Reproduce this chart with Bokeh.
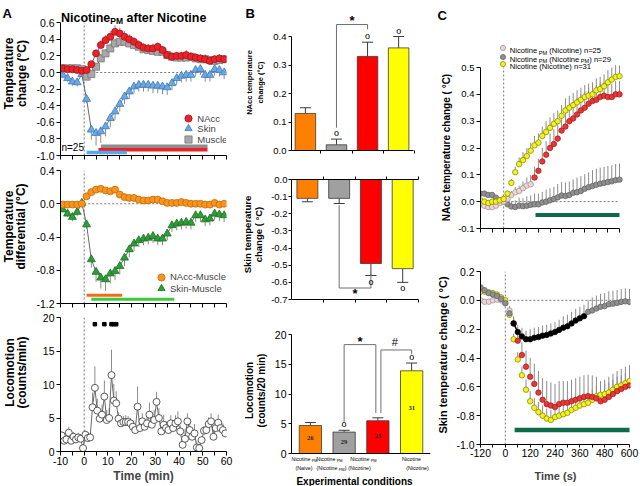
import math
from bokeh.plotting import figure
from bokeh.models import (Label, Legend, LegendItem, FixedTicker, Range1d, LinearAxis,
                          Whisker, TeeHead, ColumnDataSource, NumeralTickFormatter)
from bokeh.layouts import row, column
from bokeh.embed import file_html
from bokeh.resources import INLINE

FONT = "Liberation Sans"

# ---------------- Panel A data (2-min bins) ----------------
t_temp = list(range(-9, 60, 2))
nacc = [0.05, 0.04, 0.04, 0.03, 0.02,
        0.03, 0.10, 0.23, 0.33, 0.39, 0.43, 0.49, 0.47, 0.43, 0.40,
        0.37, 0.33, 0.30, 0.29, 0.29, 0.31, 0.27, 0.21, 0.19, 0.20,
        0.20, 0.21, 0.19, 0.18, 0.17, 0.16, 0.14, 0.16, 0.17, 0.16]
nacc_err = [0.02, 0.02, 0.02, 0.02, 0.02,
            0.03, 0.04, 0.05, 0.06, 0.06, 0.07, 0.08, 0.07, 0.07, 0.06,
            0.06, 0.06, 0.05, 0.05, 0.06, 0.05, 0.05, 0.05, 0.05, 0.05,
            0.05, 0.06, 0.05, 0.05, 0.05, 0.06, 0.05, 0.05, 0.05, 0.05]
muscle = [0.05, 0.05, 0.05, 0.05, 0.04,
          -0.05, -0.02, 0.07, 0.17, 0.23, 0.29, 0.35, 0.37, 0.37, 0.35,
          0.33, 0.31, 0.28, 0.27, 0.26, 0.25, 0.25, 0.21, 0.19, 0.18,
          0.18, 0.18, 0.19, 0.17, 0.16, 0.16, 0.15, 0.14, 0.15, 0.16]
muscle_err = [0.02, 0.02, 0.02, 0.02, 0.02,
              0.03, 0.03, 0.04, 0.05, 0.05, 0.06, 0.06, 0.06, 0.06, 0.05,
              0.05, 0.05, 0.05, 0.05, 0.05, 0.05, 0.05, 0.05, 0.05, 0.05,
              0.05, 0.05, 0.05, 0.05, 0.05, 0.05, 0.05, 0.05, 0.05, 0.05]
skin = [-0.03, -0.07, -0.11, -0.12, -0.02,
        -0.32, -0.69, -0.73, -0.71, -0.65, -0.55, -0.47, -0.38, -0.29, -0.23,
        -0.17, -0.15, -0.15, -0.15, -0.16, -0.16, -0.17, -0.18, -0.13, -0.07,
        -0.04, -0.03, -0.03, 0.03, 0.04, -0.03, -0.03, 0.04, 0.03, 0.00]
skin_err = [0.03, 0.04, 0.05, 0.05, 0.03,
            0.05, 0.12, 0.15, 0.14, 0.12, 0.11, 0.10, 0.09, 0.09, 0.09,
            0.08, 0.08, 0.08, 0.08, 0.09, 0.09, 0.09, 0.09, 0.08, 0.08,
            0.08, 0.08, 0.08, 0.08, 0.07, 0.08, 0.08, 0.08, 0.08, 0.08]
nacc_musc = [-0.01, -0.01, -0.01, -0.01, 0.00,
             0.09, 0.14, 0.17, 0.18, 0.16, 0.15, 0.17, 0.11, 0.08, 0.07,
             0.07, 0.05, 0.04, 0.04, 0.05, 0.05, 0.03, 0.01, 0.01, 0.01,
             0.02, 0.01, 0.00, 0.00, 0.00, -0.01, -0.01, 0.01, -0.01, 0.00]
nacc_musc_err = [0.02, 0.02, 0.02, 0.02, 0.02,
                 0.03, 0.03, 0.03, 0.03, 0.03, 0.03, 0.03, 0.03, 0.03, 0.02,
                 0.02, 0.02, 0.02, 0.02, 0.02, 0.02, 0.02, 0.02, 0.02, 0.02,
                 0.02, 0.02, 0.02, 0.02, 0.02, 0.02, 0.02, 0.02, 0.02, 0.02]
skin_musc = [-0.07, -0.12, -0.16, -0.10, 0.01,
             -0.25, -0.67, -0.82, -0.89, -0.91, -0.84, -0.81, -0.75, -0.65, -0.55,
             -0.48, -0.44, -0.42, -0.41, -0.39, -0.42, -0.42, -0.36, -0.26, -0.24,
             -0.23, -0.22, -0.23, -0.14, -0.14, -0.19, -0.18, -0.12, -0.13, -0.14]
skin_musc_err = [0.03, 0.04, 0.05, 0.05, 0.03,
                 0.05, 0.10, 0.12, 0.13, 0.14, 0.12, 0.11, 0.10, 0.10, 0.09,
                 0.09, 0.08, 0.08, 0.08, 0.08, 0.08, 0.08, 0.08, 0.08, 0.08,
                 0.08, 0.08, 0.08, 0.08, 0.08, 0.08, 0.08, 0.08, 0.08, 0.08]
sig_a1 = {"Muscle": (7, 52), "NAcc": (6, 52), "Skin": (1, 18)}
sig_a2 = {"NAcc-Muscle": (1, 16), "Skin-Muscle": (3, 38)}

t_loc = [m + 0.5 for m in range(-10, 60)]
loc = [2.4, 1.6, 1.8, 2.8, 1.6, 2.2, 1.8, 2.1, 1.9, 0.5,
       2.5, 2.0, 2.1, 6.6, 9.5, 6.1, 4.9, 5.5, 8.2, 4.7,
       5.0, 11.4, 7.6, 7.2, 4.9, 4.2, 4.4, 4.4, 4.4, 4.2,
       3.7, 3.2, 6.7, 3.5, 4.5, 3.7, 4.2, 5.5, 4.0, 4.7,
       7.4, 5.0, 3.0, 4.0, 3.5, 3.2, 4.2, 3.5, 4.2, 4.5,
       3.0, 1.0, 1.9, 4.5, 3.2, 2.2, 2.7, 0.6, 0.5, 1.7,
       3.1, 3.2, 4.1, 4.5, 2.2, 3.5, 4.3, 3.5, 3.2, 2.7]
loc_err = [0.5, 0.6, 0.6, 0.9, 0.6, 0.7, 0.6, 0.7, 0.6, 0.5,
           0.6, 0.6, 0.6, 2.2, 3.2, 1.8, 1.2, 1.5, 2.4, 1.5,
           1.5, 3.8, 2.5, 1.8, 1.0, 0.8, 0.9, 1.0, 0.9, 0.8,
           0.9, 0.8, 3.0, 1.0, 1.2, 1.0, 1.0, 1.8, 1.2, 1.5,
           1.5, 1.5, 0.8, 1.5, 1.0, 1.0, 1.2, 1.0, 1.2, 1.5,
           0.9, 1.0, 1.5, 1.2, 1.0, 1.2, 1.4, 1.0, 0.6, 0.5,
           0.7, 1.0, 1.0, 1.2, 1.2, 1.0, 1.2, 1.0, 1.0, 0.8]
loc_sig_bins = [4.5, 8.5, 11.5, 12.5, 13.5]

# ---------------- Panel B data ----------------
groups = [1, 2, 3, 4]
b_colors = ["#FF8000", "#A0A0A0", "#FF0000", "#FFFF00"]
b_nacc = [0.13, 0.02, 0.33, 0.36]
b_nacc_err = [0.02, 0.02, 0.05, 0.04]
b_nacc_sig = [False, True, True, True]
b_skin = [-0.11, -0.11, -0.49, -0.52]
b_skin_err = [0.02, 0.03, 0.07, 0.08]
b_skin_sig = [False, False, True, True]
b_loc = [4.7, 3.6, 5.5, 13.9]
b_loc_err = [0.5, 0.3, 0.5, 1.3]
b_loc_sig = [False, True, False, True]
b_n = [26, 29, 25, 31]
b_cat_line1 = [[("Nicotine", 0), (" PM", 1)], [("Nicotine", 0), (" PM", 1)],
               [("Nicotine", 0), (" PM", 1)], [("Nicotine", 0)]]
b_cat_line2 = [[("(Naive)", 0)], [("(Nicotine", 0), (" PM", 1), (")", 0)],
               [("(Nicotine)", 0)], [("(Nicotine)", 0)]]

# ---------------- Panel C data (20-s bins) ----------------
t_c = list(range(-120, 601, 20))
c1_pm_nic = [-0.01, -0.015, -0.02, -0.02, -0.015, -0.005, 0.0,
             0.01, 0.025, 0.035, 0.04, 0.05, 0.06, 0.065, 0.09, 0.115, 0.15,
             0.175, 0.2, 0.215, 0.235, 0.265, 0.28, 0.30, 0.31, 0.325, 0.34,
             0.35, 0.365, 0.375, 0.38, 0.39, 0.395, 0.39, 0.39, 0.40, 0.40]
c1_pm_nic_err = [0.01, 0.01, 0.01, 0.01, 0.01, 0.01, 0.01,
                 0.01, 0.015, 0.02, 0.02, 0.025, 0.03, 0.035, 0.04, 0.045, 0.05,
                 0.05, 0.055, 0.055, 0.06, 0.06, 0.06, 0.06, 0.06, 0.06, 0.06,
                 0.06, 0.06, 0.055, 0.055, 0.055, 0.05, 0.05, 0.05, 0.05, 0.05]
c1_pm_pm = [0.03, 0.03, 0.025, 0.025, 0.015, 0.005, 0.0,
            -0.01, -0.018, -0.02, -0.015, -0.017, -0.015, -0.012, -0.01, -0.01, -0.003,
            0.0, 0.005, 0.01, 0.016, 0.023, 0.021, 0.025, 0.033, 0.035, 0.04,
            0.048, 0.054, 0.058, 0.063, 0.067, 0.07, 0.073, 0.076, 0.08, 0.082]
c1_pm_pm_err = [0.01, 0.01, 0.01, 0.01, 0.01, 0.01, 0.01,
                0.015, 0.02, 0.025, 0.03, 0.03, 0.035, 0.035, 0.04, 0.04, 0.04,
                0.045, 0.045, 0.045, 0.05, 0.05, 0.05, 0.05, 0.05, 0.055, 0.055,
                0.055, 0.055, 0.06, 0.06, 0.06, 0.06, 0.06, 0.06, 0.06, 0.06]
c1_nic = [0.005, 0.0, -0.005, 0.0, 0.0, 0.005, 0.01,
          0.03, 0.07, 0.11, 0.14, 0.155, 0.17, 0.19, 0.21, 0.22, 0.245,
          0.26, 0.275, 0.29, 0.30, 0.32, 0.34, 0.35, 0.36, 0.37, 0.38,
          0.39, 0.395, 0.40, 0.415, 0.42, 0.43, 0.445, 0.455, 0.465, 0.468]
c1_nic_err = [0.01, 0.01, 0.01, 0.01, 0.01, 0.01, 0.01,
              0.01, 0.015, 0.02, 0.025, 0.03, 0.03, 0.03, 0.035, 0.035, 0.035,
              0.04, 0.04, 0.04, 0.04, 0.04, 0.045, 0.045, 0.045, 0.045, 0.045,
              0.045, 0.045, 0.045, 0.045, 0.045, 0.045, 0.045, 0.045, 0.045, 0.04]
c1_pm_nic_sig_from = 160
c1_sig_window = (165, 600)

c2_pm_nic = [0.0, -0.01, -0.01, 0.0, 0.005, 0.0, -0.02,
             -0.07, -0.16, -0.28, -0.38, -0.46, -0.53, -0.58, -0.64, -0.69, -0.72,
             -0.73, -0.74, -0.72, -0.71, -0.71, -0.70, -0.69, -0.68, -0.67, -0.665,
             -0.67, -0.68, -0.70, -0.69, -0.67, -0.65, -0.63, -0.615, -0.60, -0.59]
c2_pm_nic_err = [0.02, 0.02, 0.02, 0.02, 0.02, 0.02, 0.02,
                 0.03, 0.05, 0.07, 0.09, 0.11, 0.13, 0.14, 0.15, 0.15, 0.16,
                 0.16, 0.16, 0.16, 0.15, 0.15, 0.15, 0.15, 0.15, 0.15, 0.15,
                 0.15, 0.15, 0.14, 0.14, 0.14, 0.14, 0.14, 0.14, 0.14, 0.14]
c2_pm_pm = [0.09, 0.07, 0.05, 0.04, 0.03, 0.01, -0.02,
            -0.09, -0.16, -0.22, -0.25, -0.27, -0.27, -0.26, -0.255, -0.245, -0.24,
            -0.23, -0.22, -0.205, -0.19, -0.18, -0.16, -0.14, -0.125, -0.11, -0.08,
            -0.07, -0.057, -0.045, -0.04, -0.027, -0.023, -0.018, -0.011, -0.007, -0.011]
c2_pm_pm_err = [0.02, 0.02, 0.02, 0.02, 0.02, 0.02, 0.02,
                0.03, 0.04, 0.05, 0.06, 0.06, 0.07, 0.07, 0.07, 0.07, 0.07,
                0.07, 0.07, 0.07, 0.08, 0.08, 0.08, 0.08, 0.08, 0.08, 0.08,
                0.09, 0.09, 0.09, 0.09, 0.09, 0.09, 0.09, 0.09, 0.09, 0.09]
c2_nic = [0.06, 0.06, 0.055, 0.05, 0.04, 0.02, 0.0,
          -0.10, -0.27, -0.41, -0.52, -0.62, -0.70, -0.745, -0.775, -0.80, -0.82,
          -0.83, -0.81, -0.80, -0.79, -0.78, -0.76, -0.745, -0.73, -0.72, -0.71,
          -0.69, -0.665, -0.655, -0.65, -0.64, -0.62, -0.60, -0.59, -0.575, -0.56]
c2_nic_err = [0.02, 0.02, 0.02, 0.02, 0.02, 0.02, 0.02,
              0.03, 0.04, 0.05, 0.06, 0.07, 0.07, 0.07, 0.07, 0.07, 0.07,
              0.07, 0.07, 0.07, 0.07, 0.07, 0.07, 0.07, 0.07, 0.07, 0.07,
              0.07, 0.07, 0.07, 0.07, 0.07, 0.07, 0.07, 0.07, 0.07, 0.07]
c2_pm_nic_sig_from = 40
c2_pm_pm_sig = (40, 380)
c2_sig_window = (45, 600)

for arr in (nacc, nacc_err, muscle, muscle_err, skin, skin_err, nacc_musc, nacc_musc_err, skin_musc, skin_musc_err):
    assert len(arr) == len(t_temp)
assert len(loc) == len(t_loc) and len(loc_err) == len(t_loc)
for arr in (c1_pm_nic, c1_pm_nic_err, c1_pm_pm, c1_pm_pm_err, c1_nic, c1_nic_err,
            c2_pm_nic, c2_pm_nic_err, c2_pm_pm, c2_pm_pm_err, c2_nic, c2_nic_err):
    assert len(arr) == len(t_c)

# ---------------- helpers ----------------
REG = {' ': 278, '(': 333, ')': 333, '-': 333, '.': 278, '/': 278, '=': 584, '°': 400,
       'A': 667, 'C': 722, 'M': 833, 'N': 722, 'P': 667, 'S': 667, 'T': 611,
       'a': 556, 'c': 500, 'd': 556, 'e': 556, 'f': 278, 'g': 556, 'h': 556, 'i': 222,
       'k': 500, 'l': 222, 'm': 833, 'n': 556, 'o': 556, 'p': 556, 'r': 333, 's': 500,
       't': 278, 'u': 556, 'v': 500, 'x': 500}
BOLD = {' ': 278, '(': 333, ')': 333, '-': 333, '.': 278, '/': 278, '=': 584, '°': 400,
        'A': 722, 'B': 722, 'C': 722, 'E': 667, 'M': 833, 'N': 722, 'P': 667, 'S': 667,
        'T': 611, 'a': 556, 'c': 556, 'd': 611, 'e': 556, 'f': 333, 'g': 611, 'h': 611,
        'i': 278, 'k': 556, 'l': 278, 'm': 889, 'n': 611, 'o': 611, 'p': 611, 'r': 389,
        's': 556, 't': 333, 'u': 611, 'v': 556, 'x': 556}
for _d in "0123456789":
    REG[_d] = 556
    BOLD[_d] = 556


def tw(s, size, bold=False):
    tab = BOLD if bold else REG
    return sum(tab.get(ch, 556) for ch in s) * size / 1000.0


def add_rich(p, parts, x, y, size, sub_size, bold=False, align="left",
             x_units="screen", y_units="screen", drop=None, color="black"):
    if drop is None:
        drop = size * 0.28
    total = sum(tw(t, sub_size if sb else size, bold) for t, sb in parts)
    off = -total / 2.0 if align == "center" else 0.0
    for t, sb in parts:
        s = sub_size if sb else size
        lead = len(t) - len(t.lstrip())
        txt = t.strip()
        yy = y - drop if sb else y
        p.add_layout(Label(x=x, y=yy, x_units=x_units, y_units=y_units,
                           x_offset=off + tw(" " * lead, s, bold), text=txt,
                           text_font=FONT, text_font_size=f"{s}px",
                           text_font_style="bold" if bold else "normal",
                           text_color=color, text_align="left", text_baseline="alphabetic"))
        off += tw(t, s, bold)


def vlabel(p, text, x, y, size, bold=True, units="data"):
    p.add_layout(Label(x=x, y=y, x_units=units, y_units=units, text=text,
                       angle=math.pi / 2, text_align="center", text_baseline="middle",
                       text_font=FONT, text_font_size=f"{size}px",
                       text_font_style="bold" if bold else "normal", text_color="black"))


def hlabel(p, text, x, y, size, bold=True, align="left", baseline="alphabetic",
           x_units="data", y_units="data"):
    p.add_layout(Label(x=x, y=y, x_units=x_units, y_units=y_units, text=text,
                       text_align=align, text_baseline=baseline,
                       text_font=FONT, text_font_size=f"{size}px",
                       text_font_style="bold" if bold else "normal", text_color="black"))


def mkfig(w, h, l, r, t, b, xr, yr):
    p = figure(width=w, height=h, x_range=Range1d(*xr), y_range=Range1d(*yr),
               output_backend="svg", toolbar_location=None,
               min_border_left=l, min_border_right=r, min_border_top=t, min_border_bottom=b)
    p.outline_line_color = None
    p.grid.visible = False
    p.background_fill_color = "white"
    p.border_fill_color = "white"
    return p


def textfig(w, h):
    p = figure(width=w, height=h, x_range=Range1d(0, w), y_range=Range1d(0, h),
               output_backend="svg", toolbar_location=None, x_axis_type=None, y_axis_type=None,
               min_border_left=0, min_border_right=0, min_border_top=0, min_border_bottom=0)
    p.outline_line_color = None
    p.background_fill_color = "white"
    p.border_fill_color = "white"
    return p


def style_axis(ax, size=10.5, ticks=None, labels=True, fmt=None, tick_out=4,
               standoff=2, bounds=None, minor=None):
    ax.axis_line_color = "black"
    ax.axis_line_width = 1
    ax.major_tick_line_color = "black"
    ax.major_tick_in = 0
    ax.major_tick_out = tick_out
    ax.minor_tick_in = 0
    ax.minor_tick_out = tick_out
    ax.minor_tick_line_color = "black" if minor else None
    if ticks is not None:
        ax.ticker = FixedTicker(ticks=list(ticks), minor_ticks=list(minor or []))
    if fmt:
        ax.formatter = NumeralTickFormatter(format=fmt)
    ax.major_label_text_font = FONT
    ax.major_label_text_color = "black"
    if labels:
        ax.major_label_text_font_size = f"{size}px"
        ax.major_label_standoff = standoff
    else:
        ax.major_label_overrides = {tk: "" for tk in (ticks or [])}
        ax.major_label_text_font_size = "0px"
        ax.major_label_standoff = 0
    if bounds:
        ax.bounds = bounds


def legend_rows(p, entries, x, centers, glyph, standoff, size=10):
    # one single-row legend per entry, so rows can be spaced closer than the glyph box
    for (lab, rend), yc in zip(entries, centers):
        p.add_layout(Legend(items=[LegendItem(label=lab, renderers=[rend])],
                            location=(x, yc - glyph / 2.0), glyph_width=glyph, glyph_height=glyph,
                            spacing=0, padding=0, margin=0, label_standoff=standoff,
                            label_height=glyph, label_width=0,
                            label_text_font=FONT, label_text_font_size=f"{size}px",
                            background_fill_alpha=0, border_line_alpha=0))


def up(v, e):
    return [a + b for a, b in zip(v, e)]


def down(v, e):
    return [a - b for a, b in zip(v, e)]


ERR = "#8C8C8C"
CONN = "#6A6A6A"
DASH = "#555555"
H = 486

# ======================= Panel A =======================
# all figures of a column share the same left/right borders (Bokeh aligns frames in a column)
A_X = (-10, 60)
A_W, A_L, A_R = 208, 28, 14

pA1 = mkfig(A_W, 160, A_L, A_R, 0, 5, A_X, (-1.0, -1.0 + 155 / 83.0))
style_axis(pA1.xaxis[0], ticks=range(-10, 61, 5), labels=False)
style_axis(pA1.yaxis[0], ticks=[0.6, 0.4, 0.2, 0.0, -0.2, -0.4, -0.6, -0.8, -1.0], fmt="0.0", bounds=(-1.0, 0.6))
pA1.segment(x0=[0], y0=[-1.0], x1=[0], y1=[0.6], line_dash="2 2", line_color=DASH, line_width=0.8)
pA1.segment(x0=[0], y0=[0], x1=[A_X[1]], y1=[0], line_dash="2 2", line_color=DASH, line_width=0.8)
pA1.segment(x0=t_temp, y0=nacc, x1=t_temp, y1=up(nacc, nacc_err), line_color=ERR, line_width=1)
pA1.segment(x0=t_temp, y0=muscle, x1=t_temp, y1=up(muscle, muscle_err), line_color=ERR, line_width=1)
pA1.segment(x0=t_temp, y0=skin, x1=t_temp, y1=down(skin, skin_err), line_color=ERR, line_width=1)
pA1.line(t_temp, skin, line_color=CONN, line_width=1)
pA1.line(t_temp, muscle, line_color=CONN, line_width=1)
pA1.line(t_temp, nacc, line_color=CONN, line_width=1)
r_sk = pA1.scatter(t_temp, skin, marker="triangle", size=8, fill_color="#6AA8E6", line_color="#3F78B8", line_width=0.8)
r_mu = pA1.scatter(t_temp, muscle, marker="square", size=7, fill_color="#A8A8A8", line_color="#777777", line_width=0.8)
r_na = pA1.scatter(t_temp, nacc, marker="circle", size=7, fill_color="#E8232A", line_color="#A81218", line_width=0.8)
for name, col, lev in (("Muscle", "#8E8E8E", -0.89), ("NAcc", "#E8232A", -0.93), ("Skin", "#58A6EE", -0.965)):
    s0, s1 = sig_a1[name]
    pA1.segment(x0=[s0], y0=[lev], x1=[s1], y1=[lev], line_color=col, line_width=3.5)
hlabel(pA1, "n=25", -9.6, -0.905, 10, bold=False, baseline="middle")
legend_rows(pA1, [("NAcc", r_na), ("Skin", r_sk), ("Muscle", r_mu)], 119.3, [36.7, 26.7, 16.0], 18, -4, 9.5)
add_rich(pA1, [("Nicotine", 0), ("PM", 1), (" after Nicotine", 0)], 0.5, 138, 12.5, 8.5, bold=True, drop=3)

pA2 = mkfig(A_W, 149, A_L, A_R, 10, 6, A_X, (-1.2, 0.4))
style_axis(pA2.xaxis[0], ticks=range(-10, 61, 5), labels=False)
style_axis(pA2.yaxis[0], ticks=[0.4, 0.0, -0.4, -0.8, -1.2], fmt="0.0")
pA2.segment(x0=[0], y0=[-1.2], x1=[0], y1=[0.4], line_dash="2 2", line_color=DASH, line_width=0.8)
pA2.segment(x0=[0], y0=[0], x1=[A_X[1]], y1=[0], line_dash="2 2", line_color=DASH, line_width=0.8)
pA2.segment(x0=t_temp, y0=nacc_musc, x1=t_temp, y1=up(nacc_musc, nacc_musc_err), line_color=ERR, line_width=1)
pA2.segment(x0=t_temp, y0=skin_musc, x1=t_temp, y1=down(skin_musc, skin_musc_err), line_color=ERR, line_width=1)
pA2.line(t_temp, skin_musc, line_color=CONN, line_width=1)
pA2.line(t_temp, nacc_musc, line_color=CONN, line_width=1)
r_sm = pA2.scatter(t_temp, skin_musc, marker="triangle", size=8, fill_color="#2E9E36", line_color="#1C6E22", line_width=0.8)
r_nm = pA2.scatter(t_temp, nacc_musc, marker="circle", size=7, fill_color="#F7941D", line_color="#C86A0A", line_width=0.8)
for name, col, lev in (("NAcc-Muscle", "#F26A1B", -1.10), ("Skin-Muscle", "#3CCB3C", -1.15)):
    s0, s1 = sig_a2[name]
    pA2.segment(x0=[s0], y0=[lev], x1=[s1], y1=[lev], line_color=col, line_width=3)
legend_rows(pA2, [("NAcc-Muscle", r_nm), ("Skin-Muscle", r_sm)], 92, [26.3, 14.7], 18, -2, 9.5)

pA3 = mkfig(A_W, 177, A_L, A_R, 8, 35, A_X, (0, 20))
style_axis(pA3.xaxis[0], ticks=range(-10, 61, 10), fmt="0", minor=range(-5, 56, 10), size=10.5, standoff=1)
style_axis(pA3.yaxis[0], ticks=[0, 5, 10, 15, 20], fmt="0")
xa3 = pA3.xaxis[0]
xa3.axis_label = "Time (min)"
xa3.axis_label_text_font = FONT
xa3.axis_label_text_font_size = "12px"
xa3.axis_label_text_font_style = "bold"
xa3.axis_label_standoff = 1
pA3.segment(x0=[0], y0=[0], x1=[0], y1=[20], line_dash="2 2", line_color=DASH, line_width=0.8)
pA3.segment(x0=t_loc, y0=loc, x1=t_loc, y1=up(loc, loc_err), line_color=ERR, line_width=1)
pA3.line(t_loc, loc, line_color=CONN, line_width=1)
pA3.scatter(t_loc, loc, marker="circle", size=7, fill_color="white", line_color="#333333", line_width=0.8)
pA3.scatter(loc_sig_bins, [19.0] * len(loc_sig_bins), marker="square", size=3.5, fill_color="black", line_color="black")

TA = textfig(32, H)
hlabel(TA, "A", 2, H - 13, 13)
vlabel(TA, "Temperature", 8, H - 73, 12)
vlabel(TA, "change (°C)", 21, H - 73, 12)
vlabel(TA, "Temperature", 8, H - 226, 12)
vlabel(TA, "differential (°C)", 20.5, H - 226, 12)
vlabel(TA, "Locomotion", 9, H - 372, 12)
vlabel(TA, "(counts/min)", 21, H - 372, 12)

# ======================= Panel B =======================
def bar_panel(p, vals, errs, neg=False):
    p.vbar(x=groups, top=vals, bottom=0, width=0.66, fill_color=b_colors,
           line_color="#3A3A3A", line_width=0.8)
    if neg:
        src = ColumnDataSource(dict(base=groups, upper=vals, lower=down(vals, errs)))
        w = Whisker(base="base", upper="upper", lower="lower", source=src, dimension="height",
                    line_color="#3A3A3A", line_width=1,
                    upper_head=None, lower_head=TeeHead(size=11, line_color="#3A3A3A", line_width=1))
    else:
        src = ColumnDataSource(dict(base=groups, upper=up(vals, errs), lower=vals))
        w = Whisker(base="base", upper="upper", lower="lower", source=src, dimension="height",
                    line_color="#3A3A3A", line_width=1,
                    lower_head=None, upper_head=TeeHead(size=11, line_color="#3A3A3A", line_width=1))
    p.add_layout(w)


BR = "#707070"
B_W, B_L, B_R = 168, 22, 6
B_FW = B_W - B_L - B_R


def bx(first_center_px, px_per_bar):
    x0 = 1 - first_center_px / px_per_bar
    return (x0, x0 + B_FW / px_per_bar)


B1_X = bx(14, 31.3)
pB1 = mkfig(B_W, 165, B_L, B_R, 7, 15, B1_X, (0, 143 / 285.0))
style_axis(pB1.xaxis[0], ticks=[1.5, 2.5, 3.5, 4.5], labels=False, tick_out=3, bounds=(B1_X[0], 4.48))
style_axis(pB1.yaxis[0], ticks=[0.0, 0.1, 0.2, 0.3, 0.4], fmt="0.0", size=9.5, bounds=(0, 0.4), tick_out=3)
bar_panel(pB1, b_nacc, b_nacc_err)
top1 = up(b_nacc, b_nacc_err)
pB1.text(x=[g for g, s in zip(groups, b_nacc_sig) if s], y=[v for v, s in zip(top1, b_nacc_sig) if s],
         text=["o"] * sum(b_nacc_sig), text_align="center", text_baseline="bottom", y_offset=-1,
         text_font=FONT, text_font_size="10px", text_color="black")
pB1.line(x=[2, 2, 3, 3], y=[top1[1] + 0.04, 0.442, 0.442, top1[2] + 0.045], line_color=BR, line_width=1)
hlabel(pB1, "*", 2.5, 0.455, 13, align="center", baseline="middle")

B2_X = bx(16, 32.0)
pB2 = mkfig(B_W, 147, B_L, B_R, 14, 13, B2_X, (-0.7, 0.0))
style_axis(pB2.xaxis[0], ticks=[1.5, 2.5, 3.5, 4.5], labels=False, tick_out=3, bounds=(B2_X[0], 4.5))
ax_top = LinearAxis()
pB2.add_layout(ax_top, "above")
style_axis(ax_top, ticks=[1.5, 2.5, 3.5, 4.5], labels=False, tick_out=3, bounds=(B2_X[0], 4.5))
style_axis(pB2.yaxis[0], ticks=[0.0, -0.1, -0.2, -0.3, -0.4, -0.5, -0.6, -0.7], fmt="0.0", size=9.5,
           tick_out=3, standoff=1)
bar_panel(pB2, b_skin, b_skin_err, neg=True)
bot2 = down(b_skin, b_skin_err)
pB2.line(x=[2, 2, 3, 3], y=[bot2[1] - 0.01, -0.633, -0.633, bot2[2] + 0.01], line_color=BR, line_width=1)
pB2.text(x=[g for g, s in zip(groups, b_skin_sig) if s], y=[v for v, s in zip(bot2, b_skin_sig) if s],
         text=["o"] * sum(b_skin_sig), text_align="center", text_baseline="top", y_offset=0,
         text_font=FONT, text_font_size="10px", text_color="black")
hlabel(pB2, "*", 2.5, -0.665, 13, align="center", baseline="middle")

# B3: frame runs to the page bottom so the category labels below the axis stay inside it;
# the x axis is pinned at y = 0.
B3_X = bx(19, 34.0)
B3_H, B3_TOP = 174, 22
b3_px = 119 / 20.0                        # px per count
b3_frame_h = B3_H - B3_TOP
pB3 = mkfig(B_W, B3_H, B_L, B_R, B3_TOP, 0, B3_X, (20 - b3_frame_h / b3_px, 20))
style_axis(pB3.xaxis[0], ticks=[1.5, 2.5, 3.5, 4.5], labels=False, tick_out=0)
pB3.xaxis[0].fixed_location = 0
style_axis(pB3.yaxis[0], ticks=[0, 5, 10, 15, 20], fmt="0", size=10.5, tick_out=3, bounds=(0, 20))
bar_panel(pB3, b_loc, b_loc_err)
top3 = up(b_loc, b_loc_err)
pB3.text(x=[g for g, s in zip(groups, b_loc_sig) if s], y=[v for v, s in zip(top3, b_loc_sig) if s],
         text=["o"] * sum(b_loc_sig), text_align="center", text_baseline="bottom", y_offset=-1,
         text_font=FONT, text_font_size="10px", text_color="black")
pB3.text(x=groups, y=[v * 0.55 for v in b_loc], text=[str(n) for n in b_n], text_align="center",
         text_baseline="middle", text_font=FONT, text_font_size="6.5px", text_font_style="bold",
         text_color="#222222")
pB3.line(x=[2, 2, 2.94, 2.94], y=[top3[1] + 1.4, 18.3, 18.3, top3[2] + 0.8], line_color=BR, line_width=1)
pB3.line(x=[3.09, 3.09, 4, 4], y=[top3[2] + 0.8, 17.4, 17.4, top3[3] + 1.5], line_color=BR, line_width=1)
hlabel(pB3, "*", 2.47, 18.9, 13, align="center", baseline="middle")
hlabel(pB3, "#", 3.5, 18.8, 11, bold=False, align="center", baseline="middle")
cat_px1 = [13, 38, 72, 120]
cat_px2 = [12.5, 40, 68, 126]
for i in range(4):
    add_rich(pB3, b_cat_line1[i], cat_px1[i], 27.5, 5.3, 4.0, align="center", drop=1.4)
    add_rich(pB3, b_cat_line2[i], cat_px2[i], 18.2, 5.3, 4.0, align="center", drop=1.4)
hlabel(pB3, "Experimental conditions", 63, 5.0, 10, align="center", x_units="screen", y_units="screen")

TB = textfig(28, H)
hlabel(TB, "B", 5, H - 13, 13)
vlabel(TB, "NAcc temperature", 9, H - 82, 7.5)
vlabel(TB, "change (°C)", 20, H - 82, 7.5)
vlabel(TB, "Skin temperature", 6.5, H - 234, 9.5)
vlabel(TB, "change ( °C)", 17.5, H - 234, 9.5)
vlabel(TB, "Locomotion", 9, H - 390, 10)
vlabel(TB, "(counts/20 min)", 21, H - 390, 10)

# ======================= Panel C =======================
PINK_F, PINK_L = "#EBD6D6", "#9C8E8E"
RED_F, RED_L = "#E53935", "#A31515"
GRAY_F, GRAY_L = "#8F8F8F", "#5F5F5F"
YEL_F, YEL_L = "#F4F40C", "#7D7D1E"
GREEN = "#0E6B4A"
C_X = (-120, 600)
C_W, C_L, C_R = 187, 27, 10
C_FW = C_W - C_L - C_R


def split(t, v, cond):
    a = [(x, y) for x, y in zip(t, v) if cond(x)]
    b = [(x, y) for x, y in zip(t, v) if not cond(x)]
    return ([x for x, _ in a], [y for _, y in a]), ([x for x, _ in b], [y for _, y in b])


c1_px = 139 / 720.0
pC1 = mkfig(C_W, 240, C_L, C_R, 0, 12, (-120, -120 + C_FW / c1_px), (-0.1, -0.1 + 228 / 268.3))
style_axis(pC1.xaxis[0], ticks=range(-120, 601, 60), labels=False, bounds=C_X)
style_axis(pC1.yaxis[0], ticks=[-0.1, 0.0, 0.1, 0.2, 0.3, 0.4, 0.5], fmt="0.0", size=9.5, bounds=(-0.1, 0.5))
pC1.segment(x0=[0], y0=[-0.1], x1=[0], y1=[0.5], line_dash="2 2", line_color=DASH, line_width=0.8)
pC1.segment(x0=[0], y0=[0], x1=[C_X[1]], y1=[0], line_dash="2 2", line_color=DASH, line_width=0.8)
pC1.segment(x0=t_c, y0=c1_pm_pm, x1=t_c, y1=up(c1_pm_pm, c1_pm_pm_err), line_color=ERR, line_width=1)
pC1.segment(x0=t_c, y0=c1_pm_nic, x1=t_c, y1=up(c1_pm_nic, c1_pm_nic_err), line_color=ERR, line_width=1)
pC1.segment(x0=t_c, y0=c1_nic, x1=t_c, y1=up(c1_nic, c1_nic_err), line_color=ERR, line_width=1)
pC1.segment(x0=[c1_sig_window[0]], y0=[-0.05], x1=[c1_sig_window[1]], y1=[-0.05], line_color=GREEN, line_width=4)
r_c1_gray = pC1.scatter(t_c, c1_pm_pm, marker="circle", size=5.5, fill_color=GRAY_F, line_color=GRAY_L, line_width=0.7)
(sx, sy), (nx, ny) = split(t_c, c1_pm_nic, lambda x: x >= c1_pm_nic_sig_from)
r_c1_pink = pC1.scatter(nx, ny, marker="circle", size=5.5, fill_color=PINK_F, line_color=PINK_L, line_width=0.7)
pC1.scatter(sx, sy, marker="circle", size=5.5, fill_color=RED_F, line_color=RED_L, line_width=0.7)
r_c1_yel = pC1.scatter(t_c, c1_nic, marker="circle", size=5.5, fill_color=YEL_F, line_color=YEL_L, line_width=0.7)
leg_centers = [180.5, 172.0, 164.5]
legend_rows(pC1, [("", r_c1_pink), ("", r_c1_gray), ("", r_c1_yel)], 16.2, leg_centers, 13, 0, 8)
leg_rows = [[("Nicotine", 0), (" PM", 1), (" (Nicotine) n=25", 0)],
            [("Nicotine", 0), (" PM", 1), (" (Nicotine", 0), (" PM", 1), (") n=29", 0)],
            [("Nicotine (Nicotine) n=31", 0)]]
for parts, yc in zip(leg_rows, leg_centers):
    add_rich(pC1, parts, 29.3, yc - 2.7, 7.6, 5.6, drop=1.8)

c2_px = 149 / 720.0
pC2 = mkfig(C_W, 246, C_L, C_R, 31, 42, (-120, -120 + C_FW / c2_px), (-1.0, 0.2))
style_axis(pC2.xaxis[0], ticks=range(-120, 601, 120), fmt="0", minor=range(-60, 601, 120),
           size=10.5, tick_out=3, standoff=1, bounds=C_X)
style_axis(pC2.yaxis[0], ticks=[0.2, 0.0, -0.2, -0.4, -0.6, -0.8, -1.0], fmt="0.0", size=10.5)
xc2 = pC2.xaxis[0]
xc2.axis_label = "Time (s)"
xc2.axis_label_text_font = FONT
xc2.axis_label_text_font_size = "11px"
xc2.axis_label_text_font_style = "bold"
xc2.axis_label_standoff = 10
pC2.segment(x0=[0], y0=[-1.0], x1=[0], y1=[0.2], line_dash="2 2", line_color=DASH, line_width=0.8)
pC2.segment(x0=[0], y0=[0], x1=[C_X[1]], y1=[0], line_dash="2 2", line_color=DASH, line_width=0.8)
pC2.segment(x0=t_c, y0=c2_nic, x1=t_c, y1=up(c2_nic, c2_nic_err), line_color=ERR, line_width=1)
pC2.segment(x0=t_c, y0=c2_pm_nic, x1=t_c, y1=up(c2_pm_nic, c2_pm_nic_err), line_color=ERR, line_width=1)
pC2.segment(x0=t_c, y0=c2_pm_pm, x1=t_c, y1=up(c2_pm_pm, c2_pm_pm_err), line_color=ERR, line_width=1)
pC2.segment(x0=[c2_sig_window[0]], y0=[-0.9], x1=[c2_sig_window[1]], y1=[-0.9], line_color=GREEN, line_width=4.5)
pC2.scatter(t_c, c2_nic, marker="circle", size=5.5, fill_color=YEL_F, line_color=YEL_L, line_width=0.7)
(sx, sy), (nx, ny) = split(t_c, c2_pm_nic, lambda x: x >= c2_pm_nic_sig_from)
pC2.scatter(nx, ny, marker="circle", size=5.5, fill_color=PINK_F, line_color=PINK_L, line_width=0.7)
pC2.scatter(sx, sy, marker="circle", size=5.5, fill_color=RED_F, line_color=RED_L, line_width=0.7)
(sx, sy), (nx, ny) = split(t_c, c2_pm_pm, lambda x: c2_pm_pm_sig[0] <= x <= c2_pm_pm_sig[1])
pC2.scatter(nx, ny, marker="circle", size=5.5, fill_color=GRAY_F, line_color=GRAY_L, line_width=0.7)
pC2.line(sx, sy, line_color="black", line_width=1.5)
pC2.scatter(sx, sy, marker="circle", size=5.5, fill_color="black", line_color="black", line_width=0.7)

TC = textfig(17, H)
hlabel(TC, "C", 1, H - 15, 13)
vlabel(TC, "NAcc temperature change ( °C)", 9.5, H - 147, 10)
vlabel(TC, "Skin temperature change ( °C)", 6.5, H - 354.5, 11)

layout = row(TA, column(pA1, pA2, pA3), TB, column(pB1, pB2, pB3), TC, column(pC1, pC2))
with open("out.html", "w") as f:
    f.write(file_html(layout, INLINE))
